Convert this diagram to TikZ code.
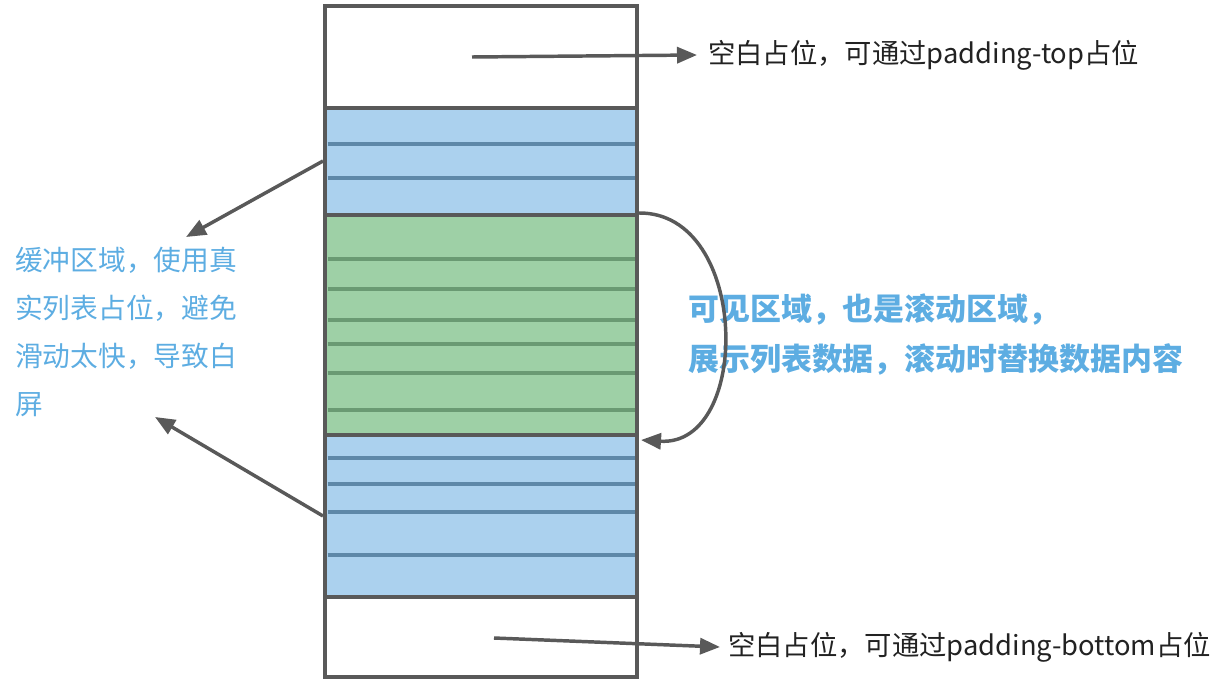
\documentclass[tikz,border=0pt]{standalone}
\usepackage{fontspec}
\setmainfont{Noto Sans CJK SC}
\usetikzlibrary{arrows.meta}
\definecolor{edge}{HTML}{595959}
\definecolor{bfill}{HTML}{ABD1EE}
\definecolor{bline}{HTML}{5E88A8}
\definecolor{gfill}{HTML}{9ED0A6}
\definecolor{gline}{HTML}{6A9A73}
\definecolor{txtblue}{HTML}{5DADE2}
\definecolor{txtdark}{HTML}{222222}
\begin{document}
\begin{tikzpicture}[x=0.75pt,y=-0.75pt,
  sec/.style={draw=edge, line width=3.2pt, minimum width=234pt, anchor=north west, inner sep=0pt, outer sep=0pt},
  bsep/.style={draw=bline, line width=2.6pt},
  gsep/.style={draw=gline, line width=2.6pt},
  arr/.style={draw=edge, line width=2.6pt, -{Triangle[length=15pt,width=12pt]}},
  lab/.style={font=\fontsize{20.5}{36}\selectfont, text=txtdark, inner sep=0pt, anchor=base west},
  bluelab/.style={font=\fontsize{20.8}{36}\selectfont, text=txtblue, inner sep=0pt, anchor=base west, align=left},
  boldlab/.style={font=\fontsize{23.2}{37.5}\selectfont\bfseries, text=txtblue, inner sep=0pt, anchor=base west, align=left}
]
\useasboundingbox (0,0) rectangle (1226,684);
% sections
\node[sec, fill=white, minimum height=76.5pt] (top) at (325,6) {};
\node[sec, fill=bfill, minimum height=80.25pt] (buf1) at (325,108) {};
\node[sec, fill=gfill, minimum height=165pt] (vis) at (325,215) {};
\node[sec, fill=bfill, minimum height=121.5pt] (buf2) at (325,435) {};
\node[sec, fill=white, minimum height=60pt] (bot) at (325,597) {};
% row separators
\foreach \y in {144,178} \draw[bsep] (327.5,\y) -- (634.5,\y);
\foreach \y in {259,289,320,344,373,410} \draw[gsep] (327.5,\y) -- (634.5,\y);
\foreach \y in {458,484,512,555} \draw[bsep] (327.5,\y) -- (634.5,\y);
% redraw section borders on top
\foreach \n in {top,buf1,vis,buf2,bot} \draw[edge, line width=3.2pt] (\n.north west) rectangle (\n.south east);
% labels
\node[lab] (toplab) at (708,63.5) {空白占位，可通过padding-top占位};
\node[lab] (botlab) at (728,655) {空白占位，可通过padding-bottom占位};
\node[bluelab] (buflab) at (15,414) {缓冲区域，使用真\\实列表占位，避免\\滑动太快，导致白\\屏};
\node[boldlab] (vislab) at (688,370) {可见区域，也是滚动区域，\\展示列表数据，滚动时替换数据内容};
% anchor points
\coordinate (ts) at (472,57);
\coordinate (te) at (697,55);
\coordinate (bs) at (494,638);
\coordinate (be) at (720,647);
\coordinate (l1s) at (323,161);
\coordinate (l1e) at (186,237);
\coordinate (l2s) at (323,516);
\coordinate (l2e) at (155,417);
\coordinate (cs) at (639,213);
\coordinate (ce) at (641,440);
% connectors
\draw[arr] (ts) -- (te);
\draw[arr] (bs) -- (be);
\draw[arr] (l1s) -- (l1e);
\draw[arr] (l2s) -- (l2e);
\draw[arr] (cs) .. controls (750,212) and (752,447) .. (ce);
\end{tikzpicture}
\end{document}
